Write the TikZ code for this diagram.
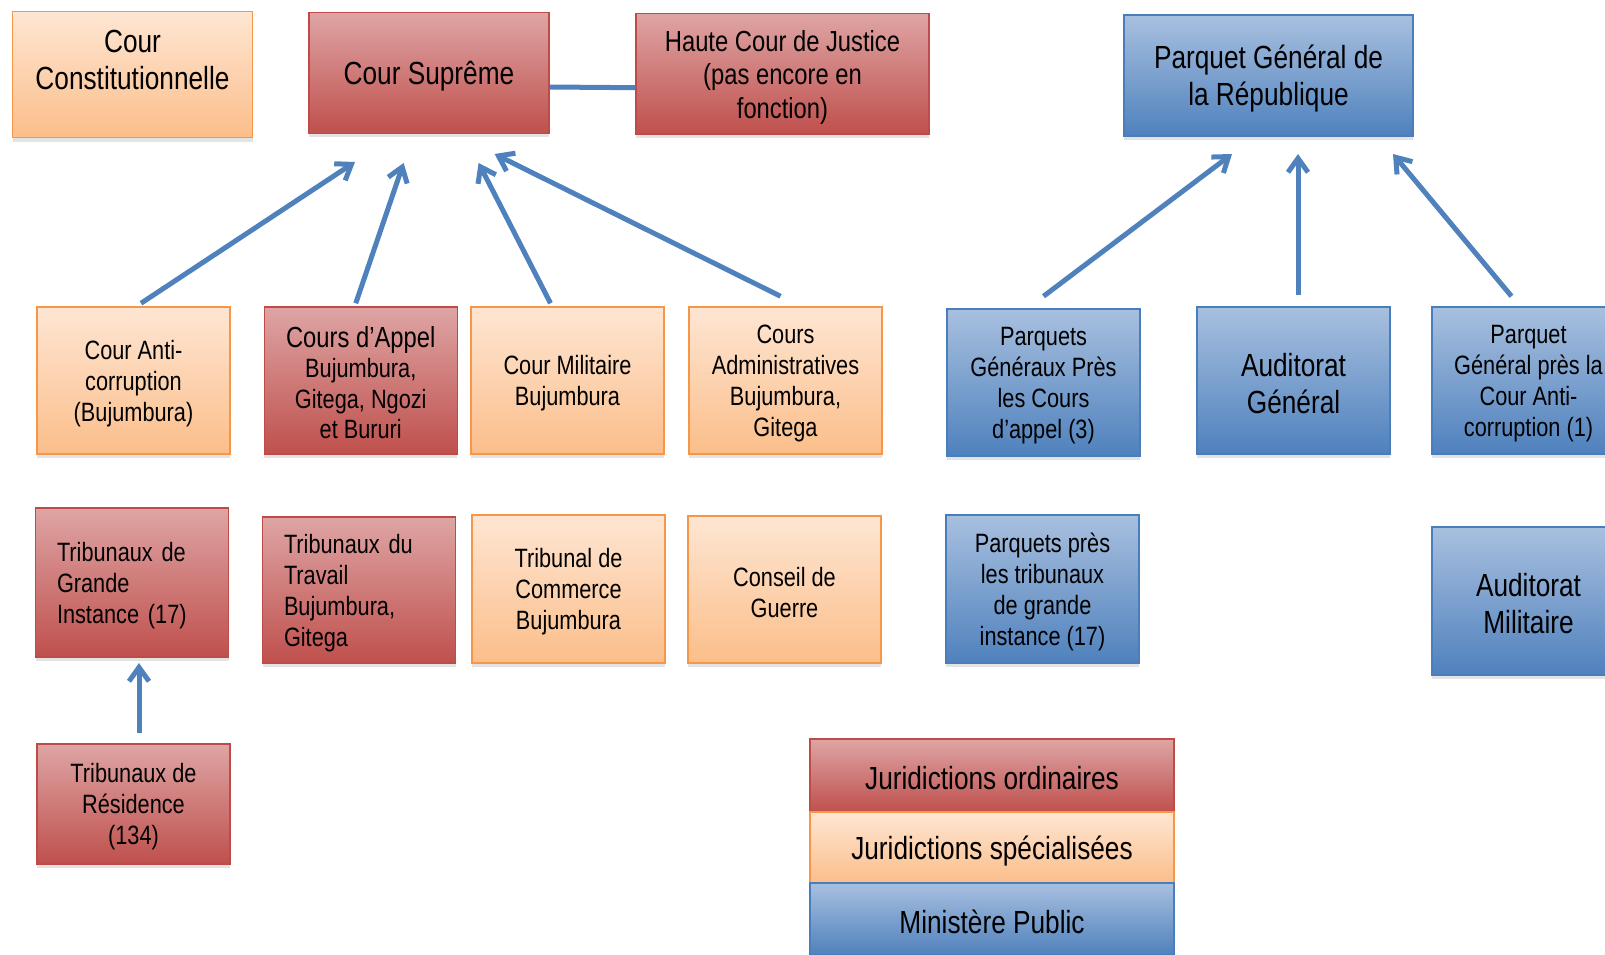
\documentclass[tikz,border=0pt]{standalone}
\usepackage{fontspec}
\setmainfont{Liberation Sans}[FakeStretch=0.82]
\usetikzlibrary{arrows.meta,shadows}
\definecolor{redtop}{HTML}{DEA5A4}
\definecolor{redbot}{HTML}{BF504D}
\definecolor{redline}{HTML}{BE4B48}
\definecolor{orgtop}{HTML}{FEE6D3}
\definecolor{orgbot}{HTML}{FBBE8A}
\definecolor{orgline}{HTML}{F79646}
\definecolor{blutop}{HTML}{A8C0DF}
\definecolor{blubot}{HTML}{4F81BD}
\definecolor{bluline}{HTML}{4A7EBB}
\definecolor{arrblue}{HTML}{4F81BD}
\begin{document}
\begin{tikzpicture}[x=1pt,y=-1pt,
  box/.style={rectangle, line width=1.5pt, inner sep=0pt,
    drop shadow={shadow xshift=0pt, shadow yshift=-4pt, opacity=0.22}},
  redbox/.style={box, draw=redline, top color=redtop, bottom color=redbot},
  orgbox/.style={box, draw=orgline, top color=orgtop, bottom color=orgbot},
  blubox/.style={box, draw=bluline, top color=blutop, bottom color=blubot},
  txt/.style={inner sep=0pt, align=center},
  ltxt/.style={inner sep=0pt, text width=150pt, align=left},
  smallf/.style={font=\fontsize{26.5}{31}\selectfont},
  midf/.style={font=\fontsize{29}{33.3}\selectfont},
  bigf/.style={font=\fontsize{32}{37}\selectfont},
  cell/.style={minimum width=193pt, minimum height=147pt},
  arr/.style={draw=arrblue, line width=5pt, -{Straight Barb[length=14pt,width=20pt]}},
  link/.style={draw=arrblue, line width=5pt}
]
\useasboundingbox (0,0) rectangle (1605,954);

% top row
\node[orgbox, minimum width=240pt, minimum height=126pt] (cc) at (132.5,74.7) {};
\node[txt, bigf] (cc-t) at ([yshift=15pt]cc.center) {Cour\\Constitutionnelle};
\node[redbox, minimum width=240pt, minimum height=120.6pt] (cs) at (429,73) {};
\node[txt, bigf] (cs-t) at ([yshift=-3pt]cs.center) {Cour Suprême};
\node[redbox, minimum width=293pt, minimum height=120.7pt] (hc) at (782.5,73.7) {};
\node[txt, midf] (hc-t) at ([yshift=-3.5pt]hc.center) {Haute Cour de Justice\\(pas encore en\\fonction)};
\node[blubox, minimum width=289pt, minimum height=121pt] (pg) at (1268.5,75.5) {};
\node[txt, bigf] (pg-t) at ([yshift=-3.5pt]pg.center) {Parquet Général de\\la République};

% second row
\node[orgbox, cell] (aco) at (133.5,380.5) {};
\node[txt, smallf] (aco-t) at ([yshift=-3pt]aco.center) {Cour Anti-\\corruption\\(Bujumbura)};
\node[redbox, cell] (cda) at (360.75,380.5) {};
\node[txt, font=\fontsize{26.5}{30.3}\selectfont] (cda-t) at ([yshift=-2pt]cda.center) {{\fontsize{29}{31.5}\selectfont Cours d’Appel}\\Bujumbura,\\Gitega, Ngozi\\et Bururi};
\node[orgbox, cell] (cm) at (567.5,380.5) {};
\node[txt, smallf] (cm-t) at ([yshift=-3pt]cm.center) {Cour Militaire\\Bujumbura};
\node[orgbox, cell] (ca) at (785.5,380.5) {};
\node[txt, smallf] (ca-t) at ([yshift=-3pt]ca.center) {Cours\\Administratives\\Bujumbura,\\Gitega};
\node[blubox, cell] (pgc) at (1043.5,382.5) {};
\node[txt, smallf] (pgc-t) at ([yshift=-3pt]pgc.center) {Parquets\\Généraux Près\\les Cours\\d’appel (3)};
\node[blubox, cell] (ag) at (1293.5,380.5) {};
\node[txt, bigf] (ag-t) at ([yshift=-3pt]ag.center) {Auditorat\\Général};
\node[blubox, cell] (pgca) at (1528.5,380.5) {};
\node[txt, smallf] (pgca-t) at ([yshift=-3pt]pgca.center) {Parquet\\Général près la\\Cour Anti-\\corruption (1)};

% third row
\node[redbox, cell, minimum height=149pt] (tgi) at (132,582.5) {};
\node[ltxt, smallf] (tgi-t) at ([yshift=-3pt]tgi.center) {Tribunaux de\\Grande\\Instance (17)};
\node[redbox, cell, minimum height=146pt] (ttr) at (359,590) {};
\node[ltxt, smallf] (ttr-t) at ([yshift=-3pt]ttr.center) {Tribunaux du\\Travail\\Bujumbura,\\Gitega};
\node[orgbox, cell, minimum height=148pt] (tc) at (568.5,589) {};
\node[txt, smallf] (tc-t) at ([yshift=-3pt]tc.center) {Tribunal de\\Commerce\\Bujumbura};
\node[orgbox, cell] (cg) at (784.5,589.5) {};
\node[txt, smallf] (cg-t) at ([yshift=-3pt]cg.center) {Conseil de\\Guerre};
\node[blubox, cell, minimum height=148pt] (ppt) at (1042.5,589) {};
\node[txt, smallf] (ppt-t) at ([yshift=-3pt]ppt.center) {Parquets près\\les tribunaux\\de grande\\instance (17)};
\node[blubox, cell, minimum height=148pt] (am) at (1528.5,601) {};
\node[txt, bigf] (am-t) at ([yshift=-3pt]am.center) {Auditorat\\Militaire};

% bottom
\node[redbox, cell, minimum height=120pt] (tr) at (133.5,804) {};
\node[txt, smallf] (tr-t) at ([yshift=-3pt]tr.center) {Tribunaux de\\Résidence\\(134)};

% legend
\node[redbox, minimum width=364pt, minimum height=73pt] (l1) at (992,775.5) {};
\node[txt, bigf] (l1-t) at ([yshift=-2.5pt]l1.center) {Juridictions ordinaires};
\node[orgbox, minimum width=364pt, minimum height=71pt] (l2) at (992,847.5) {};
\node[txt, bigf] (l2-t) at ([yshift=-3.5pt]l2.center) {Juridictions spécialisées};
\node[blubox, minimum width=364pt, minimum height=72pt] (l3) at (992,919) {};
\node[txt, bigf] (l3-t) at ([yshift=-2.5pt]l3.center) {Ministère Public};

% connectors
\draw[link] ([yshift=-14pt]cs.east) -- ([yshift=-14pt]hc.west);

\coordinate (t1) at (355,162);
\coordinate (t2) at (403.6,163);
\coordinate (t3) at (478.6,163);
\coordinate (t4) at (494.6,154);
\coordinate (t5) at (1232,154);
\coordinate (t6) at (1298,154);
\coordinate (t7) at (1393,154);
\coordinate (t8) at (139,663);

\draw[arr] ([xshift=7.5pt,yshift=3pt]aco.north) -- (t1);
\draw[arr] ([xshift=-5pt,yshift=3pt]cda.north) -- (t2);
\draw[arr] ([xshift=-17pt,yshift=3pt]cm.north) -- (t3);
\draw[arr] ([xshift=-5pt,yshift=10pt]ca.north) -- (t4);
\draw[arr] ([yshift=12pt]pgc.north) -- (t5);
\draw[arr] ([xshift=4.5pt,yshift=11pt]ag.north) -- (t6);
\draw[arr] ([xshift=-17pt,yshift=10pt]pgca.north) -- (t7);
\draw[arr] ([xshift=5.5pt,yshift=10pt]tr.north) -- (t8);
\end{tikzpicture}
\end{document}
